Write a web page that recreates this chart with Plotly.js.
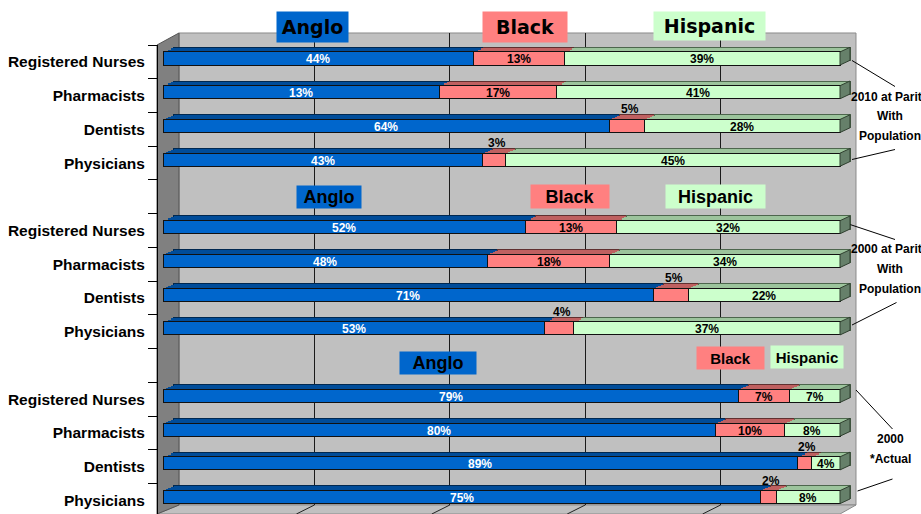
<!DOCTYPE html>
<html><head><meta charset="utf-8">
<script src="https://cdn.plot.ly/plotly-3.0.1.min.js"></script>
<style>html,body{margin:0;padding:0;background:#fff}</style>
</head><body><div id="chart" style="width:921px;height:514px"></div>
<script>
// ---------------- data ----------------
const occupations = ['Registered Nurses', 'Pharmacists', 'Dentists', 'Physicians'];
const groupKeys = ['2010 parity', '2000 parity', '2000 actual'];
const groupLabelLines = [['2010 at Parity', 'With', 'Population'], ['2000 at Parity', 'With', 'Population'], ['2000', '*Actual']];
const seriesNames = ['Anglo', 'Black', 'Hispanic'];

// 2010 at parity with population
const anglo2010 = [44, 40, 64, 43];           // Pharmacists bar drawn at ~40 although its label reads 13%
const anglo2010Labels = ['44%', '13%', '64%', '43%'];
const black2010 = [13, 17, 5, 3];
const hispanic2010 = [39, 41, 28, 45];
// 2000 at parity with population
const anglo2000Parity = [52, 48, 71, 53];
const black2000Parity = [13, 18, 5, 4];
const hispanic2000Parity = [32, 34, 22, 37];
// 2000 actual
const anglo2000Actual = [79, 80, 89, 75];
const black2000Actual = [7, 10, 2, 2];
const hispanic2000Actual = [7, 8, 4, 8];

// ---------------- build ----------------
const W = 921, H = 514;
const px = v => v / W, py = v => 1 - v / H;
const FONT = 'Liberation Sans, Arial, sans-serif';
const frontColors = ['#0066CC', '#FF8080', '#CCFFCC'];
const topColors = ['#004C99', '#BF6060', '#9CC49C'];
const outline = ['#002850', '#603030', '#4d664d'];

const rows = [], rowText = [];
groupKeys.forEach((g, gi) => {
  occupations.forEach(o => { rows.push(g + ' | ' + o); rowText.push(o); });
  if (gi < groupKeys.length - 1) { rows.push('gap ' + gi); rowText.push(''); }
});
const yRows = [].concat(...groupKeys.map(g => occupations.map(o => g + ' | ' + o)));
const angloAll = [...anglo2010, ...anglo2000Parity, ...anglo2000Actual];
const blackAll = [...black2010, ...black2000Parity, ...black2000Actual];
const hispAll = [...hispanic2010, ...hispanic2000Parity, ...hispanic2000Actual];
const seriesVals = [angloAll, blackAll, hispAll];
const angloLabels = [...anglo2010Labels, ...anglo2000Parity.map(v => v + '%'), ...anglo2000Actual.map(v => v + '%')];
const smallBlack = blackAll.map(v => v <= 5);
const seriesLabels = [angloLabels, blackAll.map(v => v + '%'), hispAll.map(v => v + '%')];

const ROW_PX = 33.75;                    // row height in px
const FRONT_L = 163, FRONT_R = 840;      // front plane, 0..100 %
const UNIT_PX = (FRONT_R - FRONT_L) / 100;
const FACE_OFF = -0.293, FACE_W = 0.386; // front face within its row
const DEPTH_X = 10, DEPTH_Y = 4.7;
const XMAX = 100 * (FRONT_R + DEPTH_X + 2 - FRONT_L) / (FRONT_R - FRONT_L); // room for bar depth
const DOMAIN_R = FRONT_R + DEPTH_X + 2;

const traces = [];
// dummy trace for wall grid subplot
traces.push({type: 'scatter', x: [0], y: [0], xaxis: 'x', yaxis: 'y', mode: 'markers',
  marker: {opacity: 0}, hoverinfo: 'skip', showlegend: false});

const copyShifts = [1, 0.75, 0.5, 0.25];
const layoutAxes = {};
copyShifts.forEach((s, ci) => {
  const axName = 'x' + (ci + 2);
  const d = DEPTH_X * s / UNIT_PX;
  layoutAxes['xaxis' + (ci + 2)] = ci === 0
    ? {domain: [px(FRONT_L), px(DOMAIN_R)], anchor: 'y2', range: [-d, XMAX - d], visible: false, fixedrange: true}
    : {overlaying: 'x2', anchor: 'y2', range: [-d, XMAX - d], visible: false, fixedrange: true};
  seriesVals.forEach((vals, si) => {
    traces.push({type: 'bar', orientation: 'h', x: vals, y: yRows, xaxis: axName, yaxis: 'y2',
      offset: FACE_OFF - DEPTH_Y * s / ROW_PX, width: FACE_W,
      marker: {color: topColors[si], line: {color: outline[si], width: ci === 0 ? 1 : 0}},
      cliponaxis: false, hoverinfo: 'skip', showlegend: false});
  });
});
layoutAxes.xaxis6 = {overlaying: 'x2', anchor: 'y2', range: [0, XMAX], visible: false, fixedrange: true};
seriesVals.forEach((vals, si) => {
  traces.push({type: 'bar', orientation: 'h', x: vals, y: yRows, xaxis: 'x6', yaxis: 'y2',
    name: seriesNames[si], offset: FACE_OFF, width: FACE_W,
    marker: {color: frontColors[si], line: {color: '#111', width: 1}},
    cliponaxis: false, hoverinfo: 'x+y', showlegend: false});
});

// ---------------- annotations ----------------
const annotations = [];
// value labels, centred on each segment (small black segments: above the bar)
yRows.forEach((r, i) => {
  const tot = angloAll[i] + blackAll[i] + hispAll[i];
  let start = 0;
  seriesVals.forEach((vals, si) => {
    const v = vals[i];
    const small = si === 1 && smallBlack[i];
    annotations.push({xref: 'x6', yref: 'y2', x: (start + v / 2) / tot * 100, y: r,
      text: seriesLabels[si][i], showarrow: false,
      xshift: small ? 3 : 0, yshift: small ? 20 : 2.5,
      font: {family: FONT, size: 12, weight: 'bold', color: (si === 0 ? '#ffffff' : '#000000')}});
    start += v;
  });
});
// header boxes: [series index, cx, cy, w, h, font size, family]
const headerBoxes = [
  [0, 312.5, 27, 71, 30, 19, 'DejaVu Sans'], [1, 525, 27, 84, 30, 19, 'DejaVu Sans'], [2, 709.5, 26, 111, 28, 19, 'DejaVu Sans'],
  [0, 329, 197, 64, 22, 18, FONT], [1, 570, 196.5, 78, 23, 18, FONT], [2, 715.5, 196.5, 99, 23, 18, FONT],
  [0, 438, 363, 76, 22, 18, FONT], [1, 730.5, 358, 67, 22, 15, FONT], [2, 807, 357, 72, 22, 15, FONT]
];
headerBoxes.forEach(([si, cx, cy, w, h, size, fam]) => {
  annotations.push({xref: 'paper', yref: 'paper', x: px(cx), y: py(cy), xanchor: 'center', yanchor: 'middle',
    text: seriesNames[si], showarrow: false, width: w, height: h, bgcolor: frontColors[si], borderpad: 0,
    font: {family: fam, size: size, weight: 'bold', color: '#000'}});
});
// group labels on the right
const groupLabelY = [[96.7, 116.5, 136.5], [249, 269, 289], [439, 459]];
groupLabelLines.forEach((lines, gi) => {
  lines.forEach((t, li) => {
    annotations.push({xref: 'paper', yref: 'paper', x: px(890), y: py(groupLabelY[gi][li]),
      xanchor: 'center', yanchor: 'middle', text: t, showarrow: false,
      font: {family: FONT, size: 12, weight: 'bold', color: '#000'}});
  });
});

// ---------------- shapes (decoration) ----------------
const P = (pts) => 'M' + pts.map(p => px(p[0]).toFixed(5) + ',' + py(p[1]).toFixed(5)).join(' L') + ' Z';
const shapes = [];
shapes.push({type: 'path', xref: 'paper', yref: 'paper', layer: 'below',
  path: P([[179, 33], [856, 33], [856, 505], [179, 505]]), fillcolor: '#C0C0C0', line: {color: '#8a8a8a', width: 1}});
shapes.push({type: 'path', xref: 'paper', yref: 'paper', layer: 'below',
  path: P([[157, 514], [179, 505], [856, 505], [840, 514]]), fillcolor: '#C0C0C0', line: {color: '#8a8a8a', width: 1}});
shapes.push({type: 'path', xref: 'paper', yref: 'paper', layer: 'below',
  path: P([[157, 45], [179, 33], [179, 505], [157, 514]]), fillcolor: '#808080', line: {color: '#555', width: 1}});
for (let k = 1; k <= 4; k++) {
  const bx = 179 + 135.4 * k;
  shapes.push({type: 'line', xref: 'paper', yref: 'paper', layer: 'below',
    x0: px(bx), y0: py(505), x1: px(bx - 18), y1: py(514), line: {color: '#222', width: 1}});
}
// leader lines
[[852, 60.5, 895, 86.5], [895, 149.5, 852, 159.5], [850, 224.5, 895, 239.5], [896.5, 302.5, 852, 325],
 [856, 390, 892.5, 429], [892.5, 479, 857.5, 491]].forEach(([x0, y0, x1, y1]) => {
  shapes.push({type: 'line', xref: 'paper', yref: 'paper', x0: px(x0), y0: py(y0), x1: px(x1), y1: py(y1),
    line: {color: '#000', width: 1}});
});
// side faces of the bar ends (pixel-sized, anchored at the 100% end of each row)
const topUp = ROW_PX / 2 - (FACE_OFF + 0.5) * ROW_PX;
const botDn = (FACE_OFF + FACE_W + 0.5) * ROW_PX - ROW_PX / 2;
yRows.forEach(r => {
  shapes.push({type: 'path', xref: 'x6', yref: 'y2', xsizemode: 'pixel', ysizemode: 'pixel',
    xanchor: 100, yanchor: rows.indexOf(r),
    path: `M0,${topUp.toFixed(2)} L${DEPTH_X},${(topUp + DEPTH_Y).toFixed(2)} L${DEPTH_X},${(DEPTH_Y - botDn).toFixed(2)} L0,${(-botDn).toFixed(2)} Z`,
    fillcolor: '#66806A', line: {color: '#2f3f2f', width: 1}});
});

const layout = Object.assign({
  width: W, height: H, autosize: false, margin: {l: 0, r: 0, t: 0, b: 0},
  paper_bgcolor: '#ffffff', plot_bgcolor: 'rgba(0,0,0,0)',
  barmode: 'stack', barnorm: 'percent', showlegend: false,
  font: {family: FONT, color: '#000'},
  xaxis: {domain: [px(179), px(856)], range: [0, 100], anchor: 'y', showgrid: true, gridcolor: '#1a1a1a', gridwidth: 1,
    tick0: 0, dtick: 20, showticklabels: false, ticks: '', zeroline: false, showline: false, fixedrange: true},
  yaxis: {domain: [py(505), py(33)], range: [0, 1], anchor: 'x', visible: false, fixedrange: true},
  yaxis2: {domain: [0, py(45)], anchor: 'free', position: px(157), type: 'category',
    categoryorder: 'array', categoryarray: rows, range: [13.4, -0.5],
    tickmode: 'array', tickvals: rows, ticktext: rowText, tickson: 'boundaries',
    ticks: 'outside', ticklen: 9, tickcolor: '#000', tickwidth: 1, ticklabelstandoff: 9,
    showline: true, linecolor: '#000', linewidth: 1, showgrid: false, zeroline: false, fixedrange: true,
    tickfont: {family: FONT, size: 15.5, weight: 'bold', color: '#000'}},
  annotations: annotations, shapes: shapes
}, layoutAxes);

Plotly.newPlot('chart', traces, layout, {displayModeBar: false, staticPlot: true});
</script>
</body></html>
